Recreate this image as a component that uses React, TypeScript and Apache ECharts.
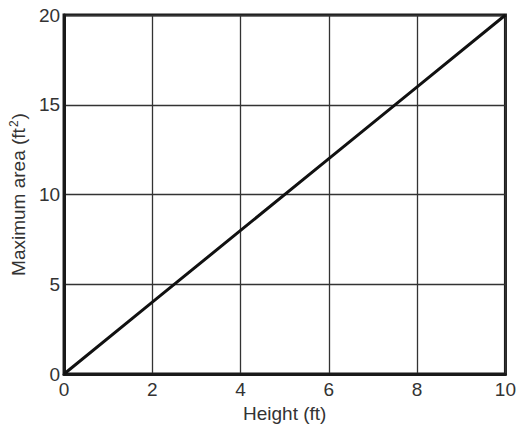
import React, { useEffect, useRef } from "react";
import * as echarts from "echarts";

const heights = [0, 2, 4, 6, 8, 10];
const maxArea = [0, 4, 8, 12, 16, 20];
const xTicks = [0, 2, 4, 6, 8, 10];
const yTicks = [0, 5, 10, 15, 20];

export default function App() {
  const ref = useRef<HTMLDivElement>(null);
  useEffect(() => {
    const chart = echarts.init(ref.current!, null, { renderer: "svg" });
    const font = "'Liberation Sans', Arial, Helvetica, sans-serif";
    chart.setOption({
      animation: false,
      backgroundColor: "#ffffff",
      grid: {
        left: 64,
        top: 15,
        width: 443,
        height: 359,
        show: true,
        borderColor: "#1a1a1a",
        borderWidth: 3,
        containLabel: false,
      },
      xAxis: {
        type: "value",
        min: xTicks[0],
        max: xTicks[xTicks.length - 1],
        interval: 2,
        name: "Height (ft)",
        nameLocation: "middle",
        nameGap: 26,
        nameTextStyle: { fontSize: 19, color: "#333", fontFamily: font },
        axisLine: { show: true, lineStyle: { color: "#1a1a1a", width: 3 } },
        axisTick: { show: false },
        axisLabel: { fontSize: 19, color: "#333", fontFamily: font, margin: 6 },
        splitLine: { show: true, lineStyle: { color: "#333", width: 1.3 } },
      },
      yAxis: {
        type: "value",
        min: yTicks[0],
        max: yTicks[yTicks.length - 1],
        interval: 5,
        name: "{a|Maximum area (ft}{b|2}{a|)}",
        nameLocation: "middle",
        nameGap: 33,
        nameTextStyle: {
          color: "#333",
          fontFamily: font,
          fontSize: 19,
          rich: {
            a: { fontSize: 19, color: "#333", fontFamily: font },
            b: { fontSize: 12, color: "#333", fontFamily: font, verticalAlign: "top", padding: [0, 1, 9, 1] },
          },
        },
        axisLine: { show: true, lineStyle: { color: "#1a1a1a", width: 3 } },
        axisTick: { show: false },
        axisLabel: { fontSize: 19, color: "#333", fontFamily: font, margin: 4 },
        splitLine: { show: true, lineStyle: { color: "#333", width: 1.3 } },
      },
      series: [
        {
          type: "line",
          data: heights.map((h, i) => [h, maxArea[i]]),
          showSymbol: false,
          lineStyle: { color: "#111", width: 3 },
        },
      ],
    });
    return () => chart.dispose();
  }, []);
  return (
    <div
      ref={ref}
      style={{ position: "absolute", left: 0, top: 0, width: 519, height: 431 }}
    />
  );
}
